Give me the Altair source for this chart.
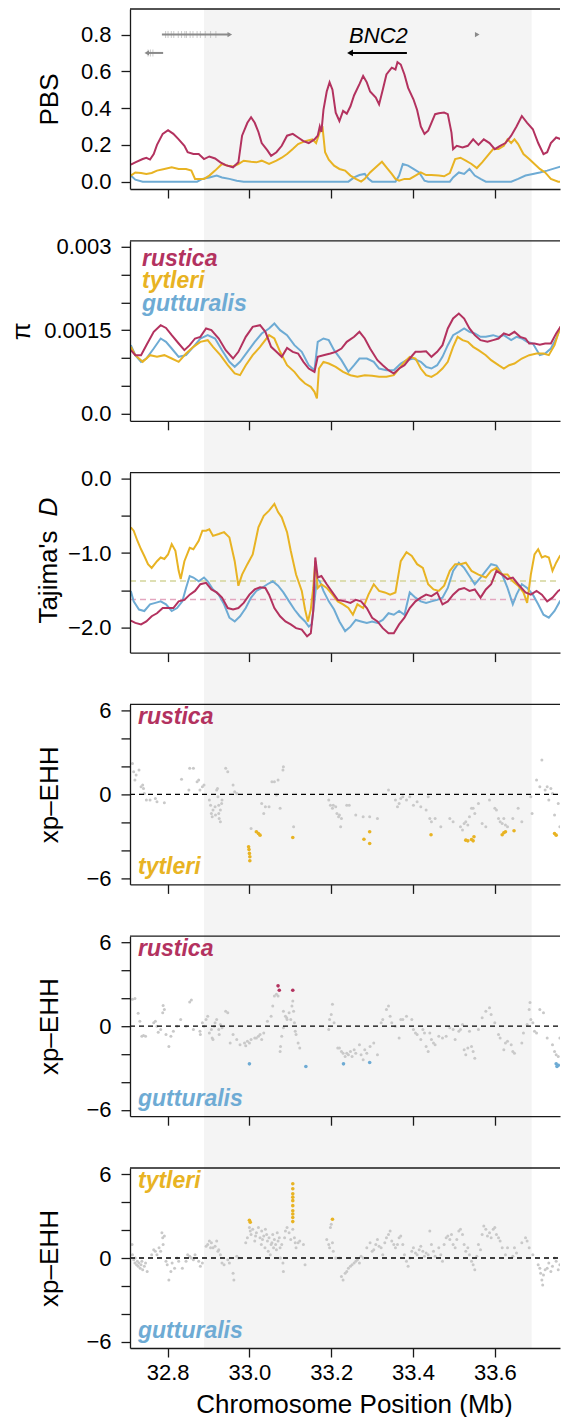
import altair as alt
import pandas as pd

# ---------------------------------------------------------------- data
# PBS (panel 1)
pbs_rus_pos = [32.710, 32.721, 32.739, 32.748, 32.757, 32.766, 32.774, 32.788, 32.801, 32.814, 32.827, 32.841, 32.849, 32.863, 32.876, 32.889, 32.902, 32.916, 32.929, 32.942, 32.960, 32.973, 32.982, 32.995, 33.004, 33.013, 33.022, 33.030, 33.044, 33.053, 33.066, 33.079, 33.092, 33.106, 33.119, 33.132, 33.145, 33.159, 33.167, 33.172, 33.176, 33.181, 33.189, 33.196, 33.203, 33.211, 33.220, 33.229, 33.238, 33.247, 33.256, 33.269, 33.278, 33.287, 33.295, 33.309, 33.317, 33.326, 33.335, 33.348, 33.357, 33.362, 33.370, 33.379, 33.388, 33.401, 33.410, 33.419, 33.428, 33.437, 33.445, 33.454, 33.463, 33.476, 33.485, 33.494, 33.498, 33.507, 33.521, 33.534, 33.547, 33.560, 33.573, 33.587, 33.600, 33.613, 33.626, 33.640, 33.653, 33.666, 33.679, 33.693, 33.706, 33.719, 33.728, 33.737, 33.750, 33.763, 33.772, 33.779]
pbs_rus_val = [0.092, 0.105, 0.123, 0.13, 0.12, 0.15, 0.2, 0.26, 0.28, 0.26, 0.23, 0.195, 0.16, 0.15, 0.15, 0.123, 0.137, 0.126, 0.105, 0.09, 0.078, 0.105, 0.25, 0.32, 0.35, 0.32, 0.27, 0.21, 0.17, 0.14, 0.16, 0.195, 0.25, 0.26, 0.24, 0.22, 0.21, 0.23, 0.25, 0.30, 0.27, 0.39, 0.49, 0.54, 0.50, 0.375, 0.33, 0.385, 0.37, 0.41, 0.47, 0.53, 0.575, 0.54, 0.49, 0.457, 0.42, 0.50, 0.583, 0.62, 0.61, 0.65, 0.637, 0.583, 0.51, 0.448, 0.39, 0.30, 0.26, 0.277, 0.32, 0.367, 0.372, 0.376, 0.367, 0.267, 0.177, 0.195, 0.186, 0.195, 0.23, 0.2, 0.23, 0.21, 0.177, 0.195, 0.21, 0.25, 0.30, 0.357, 0.32, 0.285, 0.21, 0.15, 0.16, 0.21, 0.24, 0.23, 0.177, 0.168]

pbs_tyt_pos = [32.710, 32.721, 32.735, 32.748, 32.761, 32.774, 32.792, 32.810, 32.827, 32.845, 32.858, 32.867, 32.876, 32.889, 32.902, 32.916, 32.933, 32.947, 32.960, 32.973, 32.986, 33.004, 33.017, 33.030, 33.048, 33.066, 33.079, 33.092, 33.106, 33.119, 33.136, 33.154, 33.163, 33.172, 33.179, 33.185, 33.194, 33.207, 33.220, 33.234, 33.247, 33.260, 33.273, 33.282, 33.295, 33.313, 33.324, 33.335, 33.348, 33.357, 33.366, 33.379, 33.392, 33.406, 33.419, 33.432, 33.445, 33.463, 33.476, 33.490, 33.503, 33.516, 33.529, 33.543, 33.556, 33.569, 33.582, 33.596, 33.609, 33.622, 33.631, 33.640, 33.648, 33.657, 33.670, 33.684, 33.697, 33.710, 33.723, 33.737, 33.755, 33.779]
pbs_tyt_val = [0.033, 0.05, 0.047, 0.042, 0.047, 0.06, 0.069, 0.078, 0.069, 0.069, 0.06, 0.015, 0.015, 0.015, 0.033, 0.06, 0.096, 0.087, 0.083, 0.096, 0.114, 0.108, 0.105, 0.114, 0.096, 0.114, 0.13, 0.15, 0.177, 0.204, 0.22, 0.23, 0.21, 0.27, 0.29, 0.16, 0.12, 0.087, 0.069, 0.06, 0.033, 0.015, 0.0, 0.015, 0.05, 0.087, 0.108, 0.078, 0.042, 0.015, 0.005, 0.015, 0.015, 0.033, 0.05, 0.036, 0.036, 0.033, 0.029, 0.047, 0.123, 0.13, 0.114, 0.096, 0.074, 0.105, 0.14, 0.177, 0.177, 0.195, 0.23, 0.21, 0.23, 0.204, 0.15, 0.123, 0.096, 0.069, 0.05, 0.015, 0.0, 0.0]

pbs_gut_pos = [32.710, 32.721, 32.739, 32.800, 32.872, 32.885, 32.902, 32.920, 32.933, 32.951, 32.969, 32.986, 33.100, 33.242, 33.256, 33.269, 33.282, 33.291, 33.300, 33.357, 33.366, 33.375, 33.388, 33.401, 33.415, 33.428, 33.437, 33.490, 33.498, 33.512, 33.525, 33.538, 33.551, 33.565, 33.578, 33.640, 33.657, 33.675, 33.693, 33.710, 33.728, 33.746, 33.763, 33.779]
pbs_gut_val = [0.033, 0.011, 0.0, 0.0, 0.0, 0.015, 0.023, 0.033, 0.023, 0.015, 0.005, 0.0, 0.0, 0.0, 0.023, 0.036, 0.042, 0.015, 0.0, 0.0, 0.033, 0.096, 0.087, 0.069, 0.05, 0.005, 0.0, 0.0, 0.023, 0.05, 0.042, 0.069, 0.033, 0.015, 0.0, 0.0, 0.015, 0.033, 0.042, 0.05, 0.06, 0.072, 0.083, 0.078]

# genes (panel 1)
gene_start = [32.786, 32.749, 33.246, 33.553]
gene_end = [32.952, 32.789, 33.385, 33.557]
gene_row = [0.8, 0.7, 0.7, 0.8]
gene_strand = ["+", "-", "-", "+"]
gene_name = ["", "", "BNC2", ""]
exon_pos = [32.795, 32.801, 32.809, 32.815, 32.826, 32.834, 32.842, 32.846, 32.855, 32.862, 32.872, 32.880, 32.892, 32.905, 32.918, 32.752, 32.758, 32.764]
exon_row = [0.8] * 15 + [0.7] * 3

# pi (panel 2)
pi_rus_pos = [32.710, 32.721, 32.735, 32.748, 32.766, 32.783, 32.796, 32.810, 32.827, 32.841, 32.854, 32.867, 32.880, 32.894, 32.907, 32.925, 32.942, 32.960, 32.973, 32.991, 33.008, 33.026, 33.039, 33.053, 33.066, 33.079, 33.092, 33.106, 33.119, 33.132, 33.145, 33.159, 33.167, 33.181, 33.198, 33.211, 33.225, 33.238, 33.256, 33.269, 33.282, 33.295, 33.313, 33.326, 33.340, 33.353, 33.366, 33.379, 33.392, 33.406, 33.419, 33.432, 33.445, 33.459, 33.472, 33.485, 33.498, 33.512, 33.525, 33.538, 33.551, 33.565, 33.582, 33.596, 33.609, 33.622, 33.635, 33.648, 33.662, 33.675, 33.684, 33.697, 33.710, 33.723, 33.737, 33.750, 33.763, 33.779]
pi_rus_val = [0.00114, 0.00105, 0.00105, 0.00123, 0.00147, 0.00159, 0.00154, 0.00141, 0.00126, 0.00114, 0.00123, 0.00135, 0.00138, 0.00153, 0.0015, 0.00135, 0.00114, 0.00099, 0.00111, 0.00138, 0.00156, 0.00159, 0.00147, 0.0012, 0.00111, 0.00102, 0.00118, 0.00111, 0.00108, 0.00093, 0.00081, 0.00075, 0.00102, 0.00105, 0.00108, 0.00111, 0.00117, 0.00129, 0.00138, 0.00147, 0.00135, 0.00117, 0.00096, 0.00087, 0.00078, 0.00072, 0.00081, 0.00087, 0.00099, 0.00111, 0.00111, 0.00112, 0.00102, 0.00111, 0.00123, 0.00153, 0.00171, 0.0018, 0.00171, 0.00153, 0.00141, 0.00132, 0.00129, 0.00132, 0.00135, 0.00144, 0.00141, 0.00147, 0.00138, 0.00135, 0.00126, 0.00126, 0.00124, 0.00126, 0.00126, 0.00144, 0.00159, 0.00177]

pi_tyt_pos = [32.710, 32.721, 32.739, 32.757, 32.774, 32.792, 32.810, 32.827, 32.845, 32.863, 32.880, 32.898, 32.911, 32.929, 32.947, 32.964, 32.977, 32.991, 33.008, 33.026, 33.048, 33.061, 33.075, 33.092, 33.110, 33.123, 33.136, 33.150, 33.159, 33.165, 33.170, 33.181, 33.194, 33.211, 33.229, 33.247, 33.264, 33.282, 33.300, 33.317, 33.335, 33.353, 33.366, 33.379, 33.392, 33.406, 33.419, 33.432, 33.445, 33.459, 33.472, 33.485, 33.498, 33.509, 33.521, 33.534, 33.547, 33.560, 33.578, 33.591, 33.609, 33.622, 33.635, 33.648, 33.666, 33.684, 33.702, 33.719, 33.732, 33.746, 33.759, 33.779]
pi_tyt_val = [0.0012, 0.00105, 0.00093, 0.00105, 0.00102, 0.00105, 0.00099, 0.00093, 0.00108, 0.0012, 0.00129, 0.00132, 0.0012, 0.00105, 0.00087, 0.00072, 0.00069, 0.00087, 0.00105, 0.0012, 0.00141, 0.00135, 0.00111, 0.00087, 0.00075, 0.00063, 0.00054, 0.00048, 0.00039, 0.00027, 0.00081, 0.00093, 0.0009, 0.00084, 0.00075, 0.00069, 0.00066, 0.00069, 0.00068, 0.00066, 0.00066, 0.00069, 0.00081, 0.00093, 0.00102, 0.00099, 0.00081, 0.00069, 0.00066, 0.00072, 0.00081, 0.00093, 0.0012, 0.00138, 0.00132, 0.00129, 0.0012, 0.00114, 0.00105, 0.00096, 0.00087, 0.00081, 0.00087, 0.0009, 0.00099, 0.00105, 0.00108, 0.00108, 0.00105, 0.00123, 0.00153, 0.00183]

pi_gut_pos = [32.710, 32.721, 32.735, 32.748, 32.766, 32.783, 32.796, 32.810, 32.827, 32.845, 32.863, 32.880, 32.898, 32.916, 32.933, 32.951, 32.964, 32.977, 32.995, 33.013, 33.030, 33.048, 33.061, 33.075, 33.092, 33.110, 33.128, 33.145, 33.159, 33.167, 33.181, 33.194, 33.207, 33.225, 33.242, 33.256, 33.269, 33.287, 33.304, 33.317, 33.335, 33.353, 33.370, 33.384, 33.401, 33.419, 33.432, 33.445, 33.459, 33.472, 33.485, 33.498, 33.512, 33.525, 33.538, 33.551, 33.565, 33.578, 33.596, 33.609, 33.622, 33.640, 33.653, 33.666, 33.679, 33.693, 33.710, 33.723, 33.737, 33.750, 33.763, 33.779]
pi_gut_val = [0.00123, 0.00105, 0.00093, 0.00099, 0.00117, 0.00135, 0.00129, 0.00117, 0.00102, 0.00105, 0.0012, 0.00135, 0.00141, 0.00135, 0.00114, 0.00093, 0.00084, 0.00093, 0.00111, 0.00129, 0.00144, 0.00153, 0.00162, 0.0015, 0.00141, 0.00123, 0.00111, 0.00087, 0.00078, 0.00129, 0.00135, 0.00132, 0.00114, 0.00096, 0.00075, 0.00087, 0.00099, 0.00099, 0.00093, 0.00081, 0.00078, 0.00078, 0.0009, 0.00096, 0.00099, 0.00093, 0.00084, 0.00081, 0.00087, 0.00102, 0.00123, 0.00141, 0.00147, 0.00153, 0.00147, 0.00144, 0.00138, 0.00138, 0.00141, 0.00138, 0.00141, 0.00132, 0.00138, 0.00135, 0.00129, 0.00126, 0.00105, 0.00108, 0.00117, 0.00135, 0.00159, 0.00177]

# Tajima's D (panel 3)
taj_tyt_pos = [32.710, 32.717, 32.726, 32.735, 32.743, 32.752, 32.761, 32.774, 32.783, 32.792, 32.801, 32.810, 32.819, 32.827, 32.832, 32.841, 32.854, 32.863, 32.876, 32.885, 32.894, 32.902, 32.911, 32.925, 32.938, 32.951, 32.964, 32.973, 32.982, 32.995, 33.008, 33.022, 33.035, 33.048, 33.061, 33.070, 33.079, 33.092, 33.101, 33.114, 33.128, 33.136, 33.143, 33.150, 33.156, 33.161, 33.167, 33.176, 33.189, 33.203, 33.216, 33.229, 33.242, 33.253, 33.264, 33.278, 33.291, 33.304, 33.317, 33.331, 33.344, 33.357, 33.370, 33.384, 33.397, 33.410, 33.424, 33.437, 33.450, 33.463, 33.476, 33.490, 33.503, 33.516, 33.529, 33.543, 33.560, 33.578, 33.591, 33.604, 33.618, 33.631, 33.644, 33.657, 33.670, 33.679, 33.688, 33.697, 33.706, 33.715, 33.723, 33.732, 33.741, 33.750, 33.759, 33.768, 33.779]
taj_tyt_val = [-0.655, -0.70, -0.835, -0.95, -1.04, -1.15, -1.20, -1.11, -1.06, -1.08, -1.02, -0.88, -0.97, -1.24, -1.35, -1.11, -0.93, -0.95, -0.835, -0.70, -0.70, -0.68, -0.77, -0.745, -0.72, -0.79, -1.11, -1.44, -1.29, -1.15, -1.02, -0.655, -0.50, -0.43, -0.34, -0.45, -0.52, -0.72, -0.97, -1.29, -1.51, -1.76, -1.92, -1.76, -1.47, -1.11, -1.47, -1.42, -1.47, -1.56, -1.65, -1.69, -1.74, -1.83, -1.69, -1.74, -1.56, -1.42, -1.51, -1.53, -1.56, -1.53, -1.11, -0.99, -1.04, -1.15, -1.20, -1.42, -1.49, -1.51, -1.44, -1.24, -1.15, -1.15, -1.13, -1.24, -1.29, -1.33, -1.24, -1.20, -1.29, -1.29, -1.38, -1.44, -1.53, -1.67, -1.29, -1.02, -0.95, -1.06, -1.04, -1.06, -1.24, -1.13, -1.04, -0.99, -0.97]

taj_rus_pos = [32.710, 32.721, 32.735, 32.748, 32.761, 32.774, 32.788, 32.801, 32.814, 32.827, 32.841, 32.854, 32.867, 32.880, 32.894, 32.907, 32.920, 32.933, 32.947, 32.960, 32.973, 32.986, 33.000, 33.013, 33.026, 33.039, 33.048, 33.061, 33.075, 33.088, 33.101, 33.114, 33.128, 33.141, 33.150, 33.156, 33.161, 33.167, 33.176, 33.189, 33.203, 33.216, 33.234, 33.247, 33.260, 33.273, 33.287, 33.300, 33.313, 33.326, 33.340, 33.353, 33.366, 33.379, 33.392, 33.406, 33.419, 33.432, 33.445, 33.459, 33.472, 33.485, 33.498, 33.512, 33.525, 33.538, 33.551, 33.565, 33.578, 33.591, 33.604, 33.618, 33.631, 33.644, 33.657, 33.675, 33.688, 33.702, 33.715, 33.728, 33.741, 33.755, 33.768, 33.779]
taj_rus_val = [-1.91, -1.94, -1.96, -1.92, -1.85, -1.81, -1.74, -1.74, -1.74, -1.65, -1.63, -1.56, -1.51, -1.42, -1.40, -1.49, -1.53, -1.60, -1.74, -1.76, -1.74, -1.67, -1.56, -1.49, -1.46, -1.47, -1.56, -1.74, -1.85, -1.92, -1.96, -2.01, -2.03, -2.12, -2.08, -1.78, -1.06, -1.33, -1.31, -1.42, -1.53, -1.63, -1.65, -1.67, -1.63, -1.65, -1.74, -1.87, -1.92, -2.01, -2.08, -2.08, -1.96, -1.87, -1.74, -1.65, -1.60, -1.56, -1.58, -1.53, -1.69, -1.65, -1.56, -1.49, -1.47, -1.51, -1.49, -1.60, -1.49, -1.42, -1.24, -1.29, -1.35, -1.33, -1.42, -1.53, -1.56, -1.51, -1.56, -1.65, -1.60, -1.51, -1.47, -1.49]

taj_gut_pos = [32.710, 32.717, 32.730, 32.743, 32.757, 32.770, 32.783, 32.796, 32.810, 32.823, 32.836, 32.845, 32.854, 32.863, 32.876, 32.889, 32.898, 32.911, 32.925, 32.938, 32.951, 32.964, 32.977, 32.991, 33.004, 33.017, 33.030, 33.044, 33.057, 33.070, 33.083, 33.097, 33.110, 33.123, 33.136, 33.145, 33.152, 33.159, 33.165, 33.172, 33.181, 33.194, 33.207, 33.220, 33.234, 33.247, 33.260, 33.273, 33.287, 33.300, 33.313, 33.326, 33.340, 33.353, 33.366, 33.379, 33.392, 33.406, 33.419, 33.432, 33.445, 33.459, 33.472, 33.485, 33.498, 33.512, 33.525, 33.538, 33.551, 33.565, 33.578, 33.591, 33.604, 33.618, 33.631, 33.644, 33.653, 33.666, 33.679, 33.693, 33.706, 33.719, 33.732, 33.746, 33.759, 33.772, 33.779]
taj_gut_val = [-1.51, -1.65, -1.76, -1.78, -1.69, -1.67, -1.65, -1.69, -1.78, -1.74, -1.65, -1.47, -1.31, -1.33, -1.38, -1.33, -1.38, -1.49, -1.56, -1.69, -1.87, -1.92, -1.85, -1.74, -1.60, -1.51, -1.47, -1.42, -1.38, -1.44, -1.53, -1.65, -1.76, -1.85, -1.92, -1.99, -1.96, -1.65, -1.35, -1.38, -1.51, -1.65, -1.76, -1.92, -2.05, -1.99, -1.90, -1.92, -1.94, -1.92, -1.94, -1.90, -1.81, -1.83, -1.78, -1.83, -1.53, -1.60, -1.65, -1.67, -1.65, -1.63, -1.60, -1.47, -1.24, -1.13, -1.20, -1.31, -1.42, -1.33, -1.24, -1.15, -1.17, -1.29, -1.47, -1.69, -1.56, -1.42, -1.47, -1.56, -1.69, -1.83, -1.87, -1.78, -1.65, -1.58, -1.56]

taj_mean_val = [-1.377, -1.625]

# xp-EHH rustica vs tytleri (panel 4)
xp1_gray_pos = [32.714, 32.717, 32.720, 32.723, 32.730, 32.735, 32.739, 32.741, 32.743, 32.748, 32.757, 32.770, 32.774, 32.792, 32.834, 32.852, 32.854, 32.863, 32.872, 32.876, 32.879, 32.885, 32.889, 32.902, 32.905, 32.907, 32.909, 32.911, 32.916, 32.917, 32.920, 32.922, 32.923, 32.925, 32.925, 32.926, 32.929, 32.929, 32.932, 32.933, 32.942, 32.947, 32.960, 32.964, 32.969, 33.004, 33.030, 33.035, 33.039, 33.048, 33.055, 33.061, 33.070, 33.066, 33.075, 33.082, 33.083, 33.108, 33.194, 33.198, 33.203, 33.205, 33.211, 33.214, 33.218, 33.220, 33.223, 33.225, 33.238, 33.244, 33.260, 33.278, 33.294, 33.313, 33.340, 33.357, 33.362, 33.366, 33.370, 33.375, 33.384, 33.392, 33.401, 33.410, 33.419, 33.432, 33.437, 33.441, 33.445, 33.454, 33.468, 33.490, 33.498, 33.516, 33.521, 33.525, 33.529, 33.534, 33.538, 33.543, 33.547, 33.551, 33.560, 33.569, 33.578, 33.587, 33.600, 33.604, 33.609, 33.613, 33.618, 33.622, 33.626, 33.631, 33.644, 33.657, 33.666, 33.688, 33.691, 33.702, 33.710, 33.715, 33.723, 33.728, 33.732, 33.737, 33.741, 33.746, 33.755, 33.759, 33.768, 33.772, 33.777]
xp1_gray_val = [2.22, 1.63, 1.03, 1.39, 1.75, 0.55, 0.67, 0.43, 0.07, -0.41, -0.41, -0.29, -0.53, -0.60, 1.08, 0.31, 1.87, 1.87, 0.91, 1.03, 0.31, 0.55, 0.67, -0.41, -0.77, -1.36, -1.60, -1.12, -0.89, -1.48, 0.31, 0.43, -0.17, -0.77, -1.36, -1.72, -1.96, -1.12, -0.65, -0.41, 1.87, 1.63, 0.67, 0.19, 0.07, -2.44, -0.65, -1.36, -0.89, -0.89, 0.91, 0.91, 1.03, -0.05, -1.00, 1.75, 1.99, -2.32, -0.41, -0.77, -1.00, -0.77, -0.89, -1.36, -1.60, -1.48, -2.32, -1.72, -0.77, -0.77, -1.48, -1.60, -1.60, -1.72, 0.31, -0.41, -0.89, -0.65, -0.29, -0.17, -0.41, -0.17, -0.77, -0.53, -0.89, -1.12, -0.17, -1.72, -1.96, -1.72, -2.32, -1.72, -1.96, -2.32, -2.56, -2.08, -1.96, -2.20, -1.60, -1.00, -1.00, -1.36, -0.65, -2.08, -2.32, -0.41, -1.00, -1.12, -1.72, -1.96, -2.08, -1.72, -2.20, -2.32, -1.72, -1.00, -1.96, -0.17, -1.36, 1.03, 0.55, 2.46, 0.31, 0.55, -0.41, 0.43, 0.07, -1.48, -0.65, -2.32, 0.19, 0.31, -0.53]
xp1_tyt_pos = [32.998, 32.999, 33.000, 33.001, 33.001, 33.017, 33.022, 33.026, 33.106, 33.280, 33.294, 33.294, 33.444, 33.529, 33.534, 33.543, 33.547, 33.549, 33.618, 33.622, 33.626, 33.647, 33.746, 33.750]
xp1_tyt_val = [-3.76, -3.95, -4.23, -4.47, -4.76, -2.68, -2.80, -2.92, -3.09, -3.21, -2.68, -3.52, -2.89, -3.28, -3.33, -3.23, -3.33, -3.04, -2.89, -2.75, -2.68, -2.61, -2.80, -2.92]

# xp-EHH rustica vs gutturalis (panel 5)
xp2_gray_pos = [32.714, 32.720, 32.728, 32.732, 32.737, 32.741, 32.746, 32.766, 32.770, 32.774, 32.777, 32.783, 32.788, 32.789, 32.792, 32.796, 32.803, 32.808, 32.814, 32.823, 32.832, 32.845, 32.854, 32.858, 32.863, 32.879, 32.880, 32.885, 32.889, 32.894, 32.898, 32.902, 32.907, 32.909, 32.911, 32.914, 32.916, 32.920, 32.925, 32.926, 32.929, 32.933, 32.942, 32.947, 32.953, 32.960, 32.969, 32.977, 32.988, 32.991, 32.995, 33.000, 33.004, 33.013, 33.017, 33.022, 33.026, 33.030, 33.035, 33.044, 33.053, 33.057, 33.061, 33.066, 33.070, 33.075, 33.076, 33.079, 33.083, 33.083, 33.088, 33.091, 33.092, 33.097, 33.101, 33.104, 33.106, 33.108, 33.110, 33.112, 33.114, 33.119, 33.123, 33.194, 33.196, 33.200, 33.203, 33.207, 33.216, 33.220, 33.225, 33.229, 33.234, 33.238, 33.242, 33.247, 33.251, 33.256, 33.260, 33.269, 33.273, 33.278, 33.282, 33.287, 33.295, 33.304, 33.313, 33.322, 33.326, 33.335, 33.340, 33.344, 33.348, 33.357, 33.366, 33.370, 33.375, 33.384, 33.397, 33.401, 33.406, 33.410, 33.419, 33.424, 33.428, 33.432, 33.437, 33.441, 33.445, 33.450, 33.454, 33.463, 33.472, 33.481, 33.490, 33.498, 33.503, 33.512, 33.516, 33.521, 33.525, 33.529, 33.534, 33.538, 33.543, 33.547, 33.551, 33.560, 33.569, 33.578, 33.587, 33.591, 33.600, 33.609, 33.613, 33.622, 33.626, 33.631, 33.640, 33.644, 33.648, 33.666, 33.670, 33.679, 33.684, 33.686, 33.688, 33.693, 33.697, 33.702, 33.710, 33.719, 33.728, 33.741, 33.746, 33.750, 33.755, 33.759, 33.763, 33.772, 33.777]
xp2_gray_val = [1.93, 1.98, 0.92, 0.36, -0.72, -0.67, -0.72, 0.24, 0.36, 0.00, -0.43, -0.24, 0.96, 1.49, 1.20, -0.60, -1.45, -0.72, -0.36, 0.00, 0.48, 0.00, 1.73, 1.88, -0.24, -0.36, -0.60, 0.24, 0.00, 0.48, 0.72, -0.48, -0.24, -0.84, -0.96, 0.00, 0.24, 0.48, -0.24, -0.60, 0.12, -0.12, 1.08, 0.96, -1.20, -0.60, -0.96, -1.33, -1.20, -1.40, -1.08, -1.20, -0.96, -0.84, -0.84, -0.72, -0.60, -0.96, -0.48, 0.36, 0.72, 1.45, 2.17, 2.29, 2.17, -1.81, -1.45, -0.72, -0.12, 1.08, 0.72, 0.60, 0.48, 0.96, 0.48, 1.45, 1.81, 1.08, 0.24, -0.36, -0.60, -1.20, -1.57, -0.24, 0.48, 0.84, 1.57, 0.24, -1.57, -1.57, -1.81, -1.93, -2.17, -1.93, -2.05, -1.81, -2.17, -1.69, -1.93, -1.33, -2.05, -2.41, -1.69, -1.93, -1.45, -1.20, -2.05, 0.24, 0.48, 1.20, 1.45, 0.72, 0.24, 0.00, -0.84, 0.48, 0.48, 0.72, 0.48, -0.24, -0.48, -0.60, -0.96, -0.24, -0.48, -1.45, -1.81, -0.48, -0.96, -1.20, -1.33, -0.72, -0.84, -0.72, -0.12, -0.24, -0.96, -0.36, -0.24, 0.12, -1.69, -2.05, -1.57, -0.36, -1.45, -1.81, -2.29, -0.24, 0.60, 1.08, 1.33, 0.84, 0.24, -0.60, -0.84, -1.69, -1.20, -1.08, -1.33, -1.81, -1.93, -1.20, -0.48, 0.12, 1.20, 1.69, 0.48, 0.24, -0.36, -0.48, 1.20, 0.96, -0.84, -1.33, -1.81, -2.05, -2.17, -0.84, -0.24, -0.48, -0.96]
xp2_rus_pos = [33.070, 33.073, 33.106]
xp2_rus_val = [2.89, 2.58, 2.58]
xp2_gut_pos = [33.000, 33.138, 33.230, 33.294, 33.750, 33.752, 33.755]
xp2_gut_val = [-2.70, -2.89, -2.70, -2.60, -2.70, -2.89, -2.80]

# xp-EHH tytleri vs gutturalis (panel 6)
xp3_gray_pos = [32.713, 32.714, 32.717, 32.720, 32.721, 32.724, 32.726, 32.728, 32.730, 32.733, 32.735, 32.737, 32.739, 32.743, 32.746, 32.750, 32.761, 32.766, 32.770, 32.774, 32.779, 32.783, 32.786, 32.788, 32.789, 32.792, 32.796, 32.799, 32.803, 32.808, 32.811, 32.817, 32.823, 32.827, 32.836, 32.845, 32.849, 32.854, 32.858, 32.863, 32.867, 32.876, 32.880, 32.885, 32.894, 32.898, 32.902, 32.905, 32.907, 32.911, 32.916, 32.920, 32.923, 32.925, 32.929, 32.933, 32.938, 32.947, 32.951, 32.960, 32.962, 32.969, 32.973, 32.991, 32.995, 33.000, 33.002, 33.004, 33.008, 33.013, 33.015, 33.017, 33.022, 33.026, 33.029, 33.030, 33.032, 33.035, 33.038, 33.039, 33.042, 33.044, 33.046, 33.048, 33.051, 33.053, 33.055, 33.057, 33.059, 33.061, 33.064, 33.066, 33.068, 33.070, 33.073, 33.075, 33.076, 33.079, 33.082, 33.083, 33.086, 33.088, 33.092, 33.097, 33.101, 33.106, 33.110, 33.112, 33.114, 33.119, 33.123, 33.132, 33.136, 33.189, 33.194, 33.196, 33.198, 33.200, 33.203, 33.205, 33.211, 33.220, 33.225, 33.229, 33.234, 33.238, 33.242, 33.247, 33.251, 33.256, 33.260, 33.264, 33.269, 33.273, 33.278, 33.287, 33.295, 33.300, 33.304, 33.309, 33.313, 33.317, 33.322, 33.326, 33.331, 33.335, 33.340, 33.344, 33.348, 33.353, 33.357, 33.362, 33.366, 33.370, 33.375, 33.379, 33.384, 33.388, 33.392, 33.397, 33.401, 33.406, 33.410, 33.415, 33.419, 33.424, 33.428, 33.432, 33.437, 33.441, 33.445, 33.450, 33.454, 33.463, 33.468, 33.472, 33.476, 33.481, 33.485, 33.490, 33.494, 33.498, 33.503, 33.507, 33.512, 33.516, 33.521, 33.525, 33.529, 33.534, 33.538, 33.543, 33.547, 33.551, 33.556, 33.560, 33.565, 33.569, 33.573, 33.578, 33.582, 33.587, 33.591, 33.596, 33.600, 33.604, 33.609, 33.613, 33.618, 33.626, 33.631, 33.644, 33.648, 33.653, 33.666, 33.675, 33.679, 33.684, 33.693, 33.706, 33.710, 33.712, 33.715, 33.717, 33.719, 33.723, 33.728, 33.732, 33.737, 33.741, 33.746, 33.750, 33.755, 33.759, 33.763, 33.768, 33.772, 33.777]
xp3_gray_val = [0.97, 0.24, -0.12, -0.36, 0.00, -0.48, -0.24, -0.60, -0.36, -0.73, -0.48, -0.24, -0.85, -0.60, -0.36, -0.97, 0.24, 0.60, 0.48, 0.24, 0.73, 0.48, 1.81, 1.45, 0.97, 1.57, -0.24, -0.48, -1.57, -0.97, -0.36, -0.73, 0.00, -0.24, -0.73, -0.24, 0.24, 0.12, 0.00, -0.12, 0.24, -0.24, -0.60, -0.36, 0.85, 0.97, 1.21, 0.73, 1.09, 0.73, 0.85, 1.21, 0.48, 0.60, 0.24, -0.36, -0.48, -0.12, -0.36, -1.09, -1.57, 0.12, 0.00, 1.09, 1.45, 2.18, 1.94, 1.69, 2.06, 1.21, 1.57, 1.81, 2.18, 1.45, 0.97, 1.94, 1.33, 1.57, 0.73, 2.06, 1.69, 1.21, 0.48, 1.45, 0.24, 0.97, 1.09, 1.69, 0.73, 1.33, 0.97, 0.60, 1.81, 1.21, 1.45, 0.73, 0.00, 0.97, -0.36, -0.97, 1.45, 1.94, 2.18, 1.81, 1.33, 2.06, 1.45, 1.09, 0.73, 1.09, 1.21, 0.97, -0.48, 1.33, 0.97, 0.73, 2.18, 2.42, 1.09, 0.48, 0.00, 0.00, -1.33, -1.57, -1.09, -0.97, -0.73, -0.60, -0.48, -0.36, -0.24, -0.12, -0.36, 0.12, 0.00, 0.73, 1.09, 0.48, 0.60, 0.97, 1.33, 0.85, 0.73, 0.24, 1.09, 1.45, 1.69, 1.94, 1.21, 0.97, 0.73, 0.97, 1.45, 1.57, 0.97, 0.24, -0.24, -0.60, 0.00, 0.48, 0.73, 0.36, 0.24, 0.60, 0.85, 0.48, 0.12, 0.36, 0.24, 1.94, 0.97, 0.48, 0.12, 0.73, 0.24, -0.24, 0.97, 1.45, 1.57, 1.33, 1.69, 0.97, 0.73, 1.33, 1.94, 2.06, 1.69, 0.97, 0.48, 0.73, 0.24, -0.24, -0.48, -0.85, 0.12, 0.97, 0.60, 1.69, 2.30, 2.06, 1.57, 1.81, 1.45, 2.06, 2.18, 1.69, 1.45, 1.21, 0.73, 0.24, 0.73, 0.12, 0.73, 0.36, 1.09, 1.45, 1.21, 0.73, 0.24, -0.48, -0.73, -1.09, -1.57, -1.94, -1.21, -0.85, -0.73, -0.36, -0.97, -0.60, 0.00, -0.24, -0.85, -0.48, -1.09, -0.36, -1.21, -0.24]
xp3_tyt_pos = [33.000, 33.002, 33.106, 33.106, 33.106, 33.106, 33.106, 33.106, 33.106, 33.106, 33.106, 33.106, 33.203]
xp3_tyt_val = [2.71, 2.56, 5.32, 4.96, 4.60, 4.36, 4.11, 3.75, 3.39, 3.15, 2.90, 2.61, 2.78]
xp_zero = [0]

x_ticks = [32.8, 33.0, 33.2, 33.4, 33.6]
shade_range = [32.889, 33.69]

# ---------------------------------------------------------------- style
FONT = "Liberation Sans"
W, H = 430, 180
GAP = 51.8
C_RUS, C_TYT, C_GUT = "#b3325f", "#e8b323", "#6eabd4"
C_GRAY = "#c9c9c9"
AXC = "#1a1a1a"

xscale = alt.Scale(domain=[32.708, 32.708 + W / 409.0], nice=False, zero=False)
one = pd.DataFrame({"k": [0]})


def x_axis(bottom):
    common = dict(values=x_ticks, grid=False, zindex=1, tickSize=9, tickWidth=1.3,
                  tickColor=AXC, domainColor=AXC, domainWidth=1.3)
    if bottom:
        return alt.Axis(format=".1f", title="Chromosome Position (Mb)", labelFontSize=22,
                        labelColor="black", labelPadding=5, titleFontSize=26,
                        titleFontWeight="normal", titleColor="black", titleX=224, titleY=64,
                        titleBaseline="alphabetic", titleAlign="center", **common)
    return alt.Axis(labels=False, title=None, **common)


def y_axis(values, title, label_expr=None, fmt=None, title_x=-73):
    kw = dict(values=values, grid=False, zindex=1, tickSize=9, tickWidth=1.3, tickColor=AXC,
              domainColor=AXC, domainWidth=1.3, labelFontSize=22, labelColor="black",
              labelPadding=10, labelFlush=False)
    if label_expr:
        kw["labelExpr"] = label_expr
    if fmt:
        kw["format"] = fmt
    if title:
        kw.update(title=title, titleFontSize=26, titleFontWeight="normal", titleColor="black",
                  titleAngle=270, titleX=title_x, titleY=H / 2, titleAlign="center",
                  titleBaseline="alphabetic")
    else:
        kw["title"] = None
    return alt.Axis(**kw)


class Panel:
    """Shared scales/axes of one panel so every layer uses the same axis spec."""

    def __init__(self, yscale, yaxis, bottom):
        self.ys = yscale
        self.ya = yaxis
        self.xa = x_axis(bottom)

    def X(self, field):
        return alt.X(field, type="quantitative", scale=xscale, axis=self.xa)

    def Y(self, field):
        return alt.Y(field, type="quantitative", scale=self.ys, axis=self.ya)


def shade(P, extend):
    df = pd.DataFrame({"s": [shade_range[0]], "e": [shade_range[1]]})
    return alt.Chart(df).mark_rect(color="#f4f4f4").encode(
        x=P.X("s"), x2="e", y=alt.value(0), y2=alt.value(H + extend))


def frame_top():
    return alt.Chart(one).mark_rule(color=AXC, strokeWidth=1.3).encode(
        x=alt.value(0), x2=alt.value(W), y=alt.value(0))


def line(P, pos, val, color):
    df = pd.DataFrame({"pos": pos, "val": val})
    return alt.Chart(df).mark_line(color=color, strokeWidth=2, clip=True).encode(
        x=P.X("pos"), y=P.Y("val"))


def dots(P, pos, val, color, size):
    df = pd.DataFrame({"pos": pos, "val": val})
    return alt.Chart(df).mark_circle(color=color, size=size, opacity=1, clip=True).encode(
        x=P.X("pos"), y=P.Y("val"))


def label(text, color, px, py):
    return alt.Chart(one).mark_text(text=text, color=color, font=FONT, fontSize=23,
                                    fontWeight="bold", fontStyle="italic", align="left",
                                    baseline="alphabetic").encode(
        x=alt.value(px), y=alt.value(py))


# ---------------------------------------------------------------- panel 1: PBS
P1 = Panel(alt.Scale(domain=[-0.040, 0.939], nice=False, zero=False),
           y_axis([0, 0.2, 0.4, 0.6, 0.8], "PBS", fmt=".1f"), False)
genes = pd.DataFrame({"start": gene_start, "end": gene_end, "row": gene_row,
                      "strand": gene_strand, "name": gene_name})
genes["tip"] = [e if s == "+" else b for b, e, s in zip(gene_start, gene_end, gene_strand)]
genes["shape"] = ["triangle-right" if s == "+" else "triangle-left" for s in gene_strand]
genes["mid"] = [(b + e) / 2 for b, e in zip(gene_start, gene_end)]
gray_genes = genes[genes["name"] == ""]
bnc2 = genes[genes["name"] == "BNC2"]
exons = pd.DataFrame({"pos": exon_pos, "row": exon_row})

gene_lines = alt.Chart(gray_genes).mark_rule(color="#8a8a8a", strokeWidth=2).encode(
    x=P1.X("start"), x2="end", y=P1.Y("row"))
gene_heads = alt.Chart(gray_genes).mark_point(filled=True, color="#8a8a8a", size=28, opacity=1).encode(
    x=P1.X("tip"), y=P1.Y("row"), shape=alt.Shape("shape:N", scale=None))
exon_ticks = alt.Chart(exons).mark_tick(color="#b5b5b5", thickness=1, size=7).encode(
    x=P1.X("pos"), y=P1.Y("row"))
bnc2_line = alt.Chart(bnc2).mark_rule(color="black", strokeWidth=2).encode(
    x=P1.X("start"), x2="end", y=P1.Y("row"))
bnc2_head = alt.Chart(bnc2).mark_point(filled=True, color="black", size=45, opacity=1,
                                       shape="triangle-left").encode(
    x=P1.X("tip"), y=P1.Y("row"))
bnc2_text = alt.Chart(bnc2).mark_text(font=FONT, fontSize=22, fontStyle="italic", color="black",
                                      align="center", baseline="alphabetic", dy=-10).encode(
    x=P1.X("mid"), y=P1.Y("row"), text="name:N")

p1 = alt.layer(
    shade(P1, GAP),
    line(P1, pbs_gut_pos, pbs_gut_val, C_GUT),
    line(P1, pbs_tyt_pos, pbs_tyt_val, C_TYT),
    line(P1, pbs_rus_pos, pbs_rus_val, C_RUS),
    exon_ticks, gene_lines, gene_heads, bnc2_line, bnc2_head, bnc2_text,
    frame_top(),
).properties(width=W, height=H)

# ---------------------------------------------------------------- panel 2: pi
pi_expr = ("abs(datum.value) < 1e-9 ? '0.0' : abs(datum.value - 0.0015) < 1e-9 ? '0.0015' : "
           "abs(datum.value - 0.003) < 1e-9 ? '0.003' : ''")
P2 = Panel(alt.Scale(domain=[-0.000131, 0.003108], nice=False, zero=False),
           y_axis([0, 0.0005, 0.001, 0.0015, 0.002, 0.0025, 0.003], "π", label_expr=pi_expr,
                  title_x=-101), False)
p2 = alt.layer(
    shade(P2, GAP),
    line(P2, pi_gut_pos, pi_gut_val, C_GUT),
    line(P2, pi_tyt_pos, pi_tyt_val, C_TYT),
    line(P2, pi_rus_pos, pi_rus_val, C_RUS),
    label("rustica", C_RUS, 12, 25),
    label("tytleri", C_TYT, 12, 47),
    label("gutturalis", C_GUT, 12, 70),
    frame_top(),
).properties(width=W, height=H)

# ---------------------------------------------------------------- panel 3: Tajima's D
taj_expr = ("datum.value == 0 ? '0.0' : datum.value == -1 ? '\u22121.0' : "
            "datum.value == -2 ? '\u22122.0' : ''")
P3 = Panel(alt.Scale(domain=[-2.339, 0.081], nice=False, zero=False),
           y_axis([0, -0.5, -1, -1.5, -2], None, label_expr=taj_expr), False)
means = pd.DataFrame({"v": taj_mean_val, "c": ["#d3d59a", "#e3a6bf"]})
mean_rules = alt.Chart(means).mark_rule(strokeWidth=1.6, strokeDash=[6, 4]).encode(
    y=P3.Y("v"), x=alt.value(0), x2=alt.value(W), color=alt.Color("c:N", scale=None))
taj_title1 = alt.Chart(one).mark_text(text="Tajima's", font=FONT, fontSize=26, angle=270,
                                      align="left", baseline="alphabetic", color="black").encode(
    x=alt.value(-73), y=alt.value(151))
taj_title2 = alt.Chart(one).mark_text(text="D", font=FONT, fontSize=26, angle=270, fontStyle="italic",
                                      align="left", baseline="alphabetic", color="black").encode(
    x=alt.value(-73), y=alt.value(44))
p3 = alt.layer(
    shade(P3, GAP),
    mean_rules,
    line(P3, taj_gut_pos, taj_gut_val, C_GUT),
    line(P3, taj_tyt_pos, taj_tyt_val, C_TYT),
    line(P3, taj_rus_pos, taj_rus_val, C_RUS),
    taj_title1, taj_title2,
    frame_top(),
).properties(width=W, height=H)

# ---------------------------------------------------------------- panels 4-6: xp-EHH
xp_expr = ("datum.value == 6 ? '6' : datum.value == 0 ? '0' : "
           "datum.value == -6 ? '\u22126' : ''")


def xp_panel(gray_pos, gray_val, hi, top_label, bottom_label, bottom_axis):
    P = Panel(alt.Scale(domain=[-6.45, 6.45], nice=False, zero=False),
              y_axis([-6, -4, -2, 0, 2, 4, 6], "xp\u2013EHH", label_expr=xp_expr), bottom_axis)
    zero_rule = alt.Chart(pd.DataFrame({"z": xp_zero})).mark_rule(
        color="black", strokeWidth=1.3, strokeDash=[5, 4]).encode(
        y=P.Y("z"), x=alt.value(0), x2=alt.value(W))
    layers = [
        shade(P, 0 if bottom_axis else GAP),
        dots(P, gray_pos, gray_val, C_GRAY, 9),
        zero_rule,
    ]
    for pos, val, col in hi:
        layers.append(dots(P, pos, val, col, 13))
    layers += [label(top_label[0], top_label[1], 8, 20),
               label(bottom_label[0], bottom_label[1], 8, 170),
               frame_top()]
    return alt.layer(*layers).properties(width=W, height=H)


p4 = xp_panel(xp1_gray_pos, xp1_gray_val, [(xp1_tyt_pos, xp1_tyt_val, C_TYT)],
              ("rustica", C_RUS), ("tytleri", C_TYT), False)
p5 = xp_panel(xp2_gray_pos, xp2_gray_val,
              [(xp2_rus_pos, xp2_rus_val, C_RUS), (xp2_gut_pos, xp2_gut_val, C_GUT)],
              ("rustica", C_RUS), ("gutturalis", C_GUT), False)
p6 = xp_panel(xp3_gray_pos, xp3_gray_val, [(xp3_tyt_pos, xp3_tyt_val, C_TYT)],
              ("tytleri", C_TYT), ("gutturalis", C_GUT), True)

chart = alt.vconcat(p1, p2, p3, p4, p5, p6, spacing=GAP, bounds="flush").properties(
    padding={"left": 0, "top": 0, "right": 0, "bottom": 0}
).configure_view(stroke=None).configure_axis(labelFont=FONT, titleFont=FONT).configure_text(font=FONT)

chart.save("out.html", embed_options={"renderer": "svg", "actions": False})
